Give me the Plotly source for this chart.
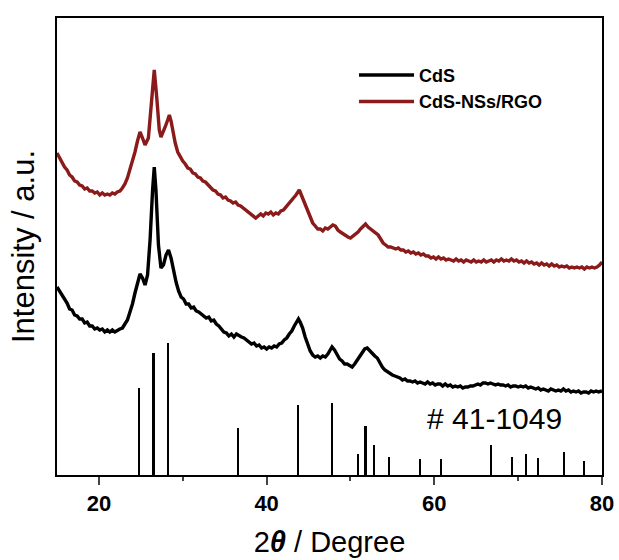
import plotly.graph_objects as go

# CdS (black) pattern: 2theta (deg) and intensity (a.u.)
cds_x = [15.0,15.3,15.6,15.9,16.2,16.5,16.8,17.1,17.4,17.7,18.0,18.3,18.6,18.9,19.2,19.5,19.8,20.1,20.4,20.7,
         21.0,21.3,21.6,21.9,22.2,22.5,22.8,23.1,23.4,23.7,24.0,24.3,24.6,24.9,25.2,25.5,25.8,26.1,26.4,26.6,
         26.8,27.1,27.4,27.7,28.0,28.3,28.6,28.9,29.2,29.5,29.8,30.1,30.4,30.7,31.0,31.3,31.6,31.9,32.2,32.5,
         32.8,33.1,33.4,33.7,34.0,34.3,34.6,34.9,35.2,35.5,35.8,36.1,36.4,36.7,37.0,37.3,37.6,37.9,38.2,38.5,
         38.8,39.1,39.4,39.7,40.0,40.3,40.6,40.9,41.2,41.5,41.8,42.1,42.4,42.7,43.0,43.3,43.6,43.8,44.0,44.3,
         44.6,44.9,45.2,45.5,45.8,46.1,46.4,46.7,47.0,47.3,47.6,47.8,48.1,48.4,48.7,49.0,49.3,49.6,49.9,50.2,
         50.5,50.8,51.1,51.4,51.7,52.0,52.3,52.6,52.9,53.2,53.5,53.8,54.1,54.4,54.7,55.0,55.3,55.6,55.9,56.2,
         56.5,56.8,57.1,57.4,57.7,58.0,58.3,58.6,58.9,59.2,59.5,59.8,60.1,60.4,60.7,61.0,61.3,61.6,61.9,62.2,
         62.5,62.8,63.1,63.4,63.7,64.0,64.3,64.6,64.9,65.2,65.5,65.8,66.1,66.4,66.7,67.0,67.3,67.6,67.9,68.2,
         68.5,68.8,69.1,69.4,69.7,70.0,70.3,70.6,70.9,71.2,71.5,71.8,72.1,72.4,72.7,73.0,73.3,73.6,73.9,74.2,
         74.5,74.8,75.1,75.4,75.7,76.0,76.3,76.6,76.9,77.2,77.5,77.8,78.1,78.4,78.7,79.0,79.3,79.6,80.0]
cds_y = [188,184,179,175,172,166,165,160,159,156,156,152,153,149,149,146,147,145,146,143,
         145,143,145,143,145,146,147,151,155,163,171,182,193,201,197,190,200,235,285,308,
         285,230,207,210,220,225,217,204,193,184,178,176,171,171,167,168,164,163,161,160,
         157,158,154,155,151,149,146,143,142,139,141,138,141,139,138,137,135,134,131,132,
         129,130,127,128,126,128,127,129,128,131,132,135,137,141,144,149,154,156,153,147,
         138,130,124,120,118,119,117,119,118,121,126,128,125,120,116,114,111,111,109,108,
         111,115,119,123,126,127,124,121,119,117,112,108,105,103,101,100,99,98,97,95,
         96,94,94,93,94,92,93,92,91,93,91,92,90,91,91,89,91,89,90,88,
         89,88,89,87,88,88,89,89,90,91,90,92,92,91,92,91,90,91,90,90,
         89,90,88,89,89,88,89,88,89,87,88,87,86,87,85,86,85,84,86,85,
         84,85,84,86,84,85,83,84,83,84,82,83,83,82,84,83,84,83,84]

# CdS-NSs/RGO (dark red) pattern
rgo_x = [15.0,15.3,15.6,15.9,16.2,16.5,16.8,17.1,17.4,17.7,18.0,18.3,18.6,18.9,19.2,19.5,19.8,20.1,20.4,20.7,
         21.0,21.3,21.6,21.9,22.2,22.5,22.8,23.1,23.4,23.7,24.0,24.3,24.6,24.9,25.2,25.5,25.9,26.3,26.6,26.9,
         27.2,27.4,27.7,27.9,28.2,28.4,28.6,28.8,29.1,29.4,29.7,30.0,30.3,30.6,30.9,31.2,31.5,31.8,32.1,32.4,
         32.7,33.0,33.3,33.6,33.9,34.2,34.5,34.8,35.1,35.4,35.7,36.0,36.3,36.6,36.9,37.2,37.5,37.8,38.1,38.4,
         38.7,39.0,39.3,39.6,39.9,40.2,40.5,40.8,41.1,41.4,41.7,42.0,42.3,42.6,42.9,43.2,43.5,43.9,44.1,44.3,
         44.6,44.9,45.2,45.5,45.8,46.1,46.4,46.7,47.0,47.3,47.6,47.9,48.2,48.5,48.8,49.1,49.4,49.7,50.0,50.3,
         50.6,50.9,51.2,51.5,51.8,52.1,52.4,52.7,53.0,53.3,53.6,53.9,54.2,54.5,54.8,55.1,55.4,55.7,56.0,56.3,
         56.6,56.9,57.2,57.5,57.8,58.1,58.4,58.7,59.0,59.3,59.6,59.9,60.2,60.5,60.8,61.1,61.4,61.7,62.0,62.3,
         62.6,62.9,63.2,63.5,63.8,64.1,64.4,64.7,65.0,65.3,65.6,65.9,66.2,66.5,66.8,67.1,67.4,67.7,68.0,68.3,
         68.6,68.9,69.2,69.5,69.8,70.1,70.4,70.7,71.0,71.3,71.6,71.9,72.2,72.5,72.8,73.1,73.4,73.7,74.0,74.3,
         74.6,74.9,75.2,75.5,75.8,76.1,76.4,76.7,77.0,77.3,77.6,77.9,78.2,78.5,78.8,79.1,79.4,79.7,80.0]
rgo_y = [322,317,313,308,305,300,298,294,293,290,289,286,287,284,284,282,283,280,282,280,
         281,280,282,281,283,284,287,291,297,305,314,323,334,343,337,330,337,380,405,377,
         345,338,343,348,355,360,354,343,332,323,318,314,311,307,306,302,301,298,297,294,
         293,290,288,285,284,281,280,277,278,275,274,272,273,270,269,267,265,264,261,260,
         257,259,261,259,262,261,263,260,262,261,264,265,268,270,273,276,280,285,281,277,
         270,264,257,252,249,246,246,244,247,246,248,250,249,245,243,241,240,238,237,239,
         240,243,246,249,251,248,246,245,242,240,236,232,230,228,228,227,226,227,225,225,
         223,224,222,223,221,222,220,221,219,219,217,218,216,218,216,217,215,216,215,214,
         216,214,215,213,215,214,213,215,213,214,213,215,213,214,215,213,215,214,216,214,
         215,214,216,214,215,213,214,212,214,212,213,211,212,210,212,210,211,209,211,209,
         210,208,209,208,209,207,208,207,208,207,208,206,208,207,208,207,208,210,213]

# JCPDS #41-1049 reference sticks
ref_x = [24.8,26.5,28.2,36.6,43.7,47.8,50.9,51.8,52.8,54.6,58.3,60.8,66.8,69.3,70.9,72.4,75.5,77.9]
ref_y = [87,122,132,47,70,72,21,49,30,18,16,16,30,18,21,17,23,14]

series_names = ["CdS", "CdS-NSs/RGO"]
series_colors = ["#000000", "#8B1A1A"]
x_ticks = [20, 40, 60, 80]
x_minor = [30, 50, 70]

fig = go.Figure()
fig.add_trace(go.Bar(x=ref_x, y=ref_y, width=0.26, marker=dict(color="black", line=dict(width=0)),
                     showlegend=False, hoverinfo="skip"))
fig.add_trace(go.Scatter(x=cds_x, y=cds_y, mode="lines", name=series_names[0],
                         line=dict(color=series_colors[0], width=3.4)))
fig.add_trace(go.Scatter(x=rgo_x, y=rgo_y, mode="lines", name=series_names[1],
                         line=dict(color=series_colors[1], width=3.4)))

fig.add_annotation(x=67.2, y=57, text="# 41-1049", showarrow=False,
                   font=dict(family="Liberation Sans, Arial", size=30, color="black"))

fig.update_layout(
    width=619, height=560,
    margin=dict(l=57, r=17, t=18, b=85),
    plot_bgcolor="white", paper_bgcolor="white",
    font=dict(family="Liberation Sans, Arial", color="black"),
    bargap=0,
    legend=dict(x=0.545, y=0.915, xanchor="left", yanchor="top", bgcolor="rgba(0,0,0,0)",
                font=dict(size=18, weight="bold"), tracegroupgap=0, itemwidth=55),
    xaxis=dict(range=[15, 80], tickvals=x_ticks, ticks="outside", ticklen=8, tickwidth=2,
               showline=True, linewidth=2, linecolor="black", mirror=True, showgrid=False, zeroline=False,
               automargin=False, ticklabeloverflow="allow", tickfont=dict(size=22, weight="bold"),
               minor=dict(tickvals=x_minor, ticks="outside", ticklen=4, tickwidth=2, showgrid=False),
               title=dict(text="2<b><i>θ</i></b> / Degree", font=dict(size=29), standoff=16)),
    yaxis=dict(range=[0, 457], showticklabels=False, ticks="", showline=True, linewidth=2,
               linecolor="black", mirror=True, showgrid=False, zeroline=False, automargin=False,
               title=dict(text="Intensity / a.u.", font=dict(size=31), standoff=11)),
)

# remove the default page margin and scrollbars so the figure fills the window exactly
fig.write_html("out.html",
               config={"displayModeBar": False},
               post_script="document.body.style.margin='0px';"
                           "document.documentElement.style.overflow='hidden';"
                           "document.body.style.overflow='hidden';")
